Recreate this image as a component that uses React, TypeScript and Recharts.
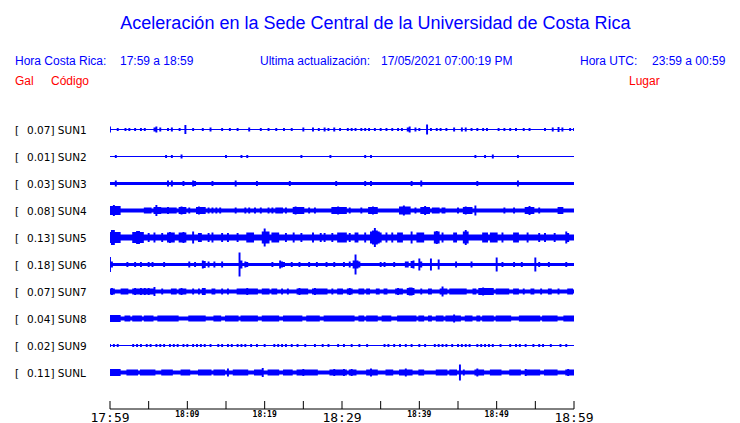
import { ComposedChart, Area, XAxis, YAxis } from "recharts";

const BLUE = "#0000ff";
const RED = "#ff0000";

// peak acceleration per station (Gal), station code, place
const galMax = ["0.07", "0.01", "0.03", "0.08", "0.13", "0.18", "0.07", "0.04", "0.02", "0.11"];
const codes = ["SUN1", "SUN2", "SUN3", "SUN4", "SUN5", "SUN6", "SUN7", "SUN8", "SUN9", "SUNL"];
const places = [
  "CIMAR",
  "Ingenieria P01",
  "Ingenieria P06",
  "EBCI",
  "Rectoria",
  "Agroalimentarias",
  "Archivo",
  "Electrica P06",
  "Electrica P01",
  "LANAMME-CTT",
];

// background noise half-amplitude of each trace
const baseAmp = [0.5, 0.5, 1.5, 2, 3, 1.5, 2, 2, 0.5, 2];

// bursts: [minute, amp] or [fromMinute, toMinute, amp]
const sun1 = [[0,3],[1,1.5],[2,1.5],[2.5,1.5],[3.25,1.5],[4,1.5],[4.5,1.5],[5.75,2],[6,3],[6.5,2],[7.5,1.5],[8,2],[9,1.5],[9.75,4.5],[10.75,1.5],[12,1.5],[13,2],[14.5,1.5],[15.5,1.5],[16.5,1.5],[18,2],[19.5,1.5],[20.5,1.5],[21.5,1.5],[22.5,1.5],[23.5,1.5],[25,2],[26.25,2],[27,1.5],[27.75,2],[28.25,1.5],[29,2],[29.75,1.5],[30.75,1.5],[31.25,1.5],[31.75,1.5],[32.5,1.5],[33,1.5],[33.5,1.5],[34.25,1.5],[35,1.5],[35.75,1.5],[36.5,1.5],[37.25,1.5],[37.75,1.5],[38.5,2],[38.75,3],[39.5,2],[40,1.5],[41,5],[41.5,1.5],[42.25,1.5],[42.75,1.5],[43.5,1.5],[44.5,2],[45.5,2],[46,2],[46.75,1.5],[47.5,1.5],[48.25,1.5],[48.75,1.5],[50.25,1.5],[51,1.5],[51.75,1.5],[52.5,1.5],[53.5,1.5],[54.25,1.5],[56.25,1.5],[57.25,2],[58,2.5],[58.5,2],[59.5,1.5],[60,1.5]];
const sun2 = [[0.75,1.5],[7.25,1.5],[8,1.5],[9.25,2],[15,1.5],[17,1.5],[17.75,1.5],[24.75,1.5],[28.5,1.5],[33,1.5],[33.75,1.5],[47.25,1.5],[48.5,1.5],[49.5,2],[52.75,1.5]];
const sun3 = [[0.75,3],[7.5,3],[8,3],[9.5,2.5],[10.75,3],[11,2.5],[13.25,2.5],[16.25,3],[19,2.5],[23.25,2.5],[29.25,2.5],[33,2.5],[33.75,2.5],[39,2.5],[40.25,3],[47.5,2.5],[52.75,3]];
const sun4 = [[0,1.25,4.5],[0.5,5.5],[4.5,5.25,3],[5.75,3.5],[6,5.5],[6.25,6.5,3.5],[6.75,8.5,3],[7.5,3.5],[9,9.75,3.5],[9.25,4],[10.25,3],[11.25,12.25,3.5],[11.5,4],[12.75,3],[13.25,3],[13.75,3],[14.25,3],[16.25,3],[17.5,3],[18,3],[18.75,3],[19.5,3],[20.5,3],[21,3],[21.5,22.25,3],[22.75,3],[23.75,25,3.5],[24,4],[25.75,3],[26.5,3],[28.75,30.5,3.5],[29.5,4],[31,3],[32.5,3],[33.5,34.5,3.5],[34,4],[37.5,38.75,4],[38,5],[39.5,3],[40.25,41.25,3.5],[40.75,4.5],[41.75,42.5,3],[43,43.25,3],[45,3],[45.75,46.75,3.5],[46,4],[47.25,5],[51,3],[52.25,3],[53.75,54.75,3.5],[54.25,4.5],[55.5,3],[58,58.5,3.5]];
const sun5 = [[0,1.25,5.5],[0.25,0.5,7.5],[3,4.25,5.5],[3.5,3.75,6.5],[5,4.5],[5.75,5],[6.75,4.5],[7.5,8.25,5],[7.75,5.5],[9,9.75,5],[9.5,5.5],[10.75,6],[11.5,11.75,4.5],[12.75,4.5],[13.25,5],[14.5,4.5],[15.25,4.5],[16.5,4.5],[17.75,18.5,5],[19.75,20.5,6],[20,9],[21,21.75,5],[22.75,4.5],[23.75,5],[24.75,4.5],[26.25,5],[27.25,4.5],[27.75,4.5],[28.75,4.5],[29.5,30.5,5],[31,4.5],[31.75,32,5],[33,5],[33.75,34.75,6],[34,7],[34.25,9.5],[34.5,7],[35,5],[35.75,5],[36.5,5],[37.25,37.75,5],[39,6],[39.75,40.5,5],[42,42.5,6],[42.25,6.5],[43,5],[44.5,44.75,5],[45.75,46.25,6],[46,7.5],[48.25,48.75,5],[49.25,50,5],[50.75,5],[52.25,52.75,5],[54,5],[55.5,4.5],[56.25,4.5],[57.5,4.5],[59,6],[59.25,4.5]];
const sun6 = [[0,7.5],[0.25,3],[2.25,2.5],[3.25,2.5],[4,2.5],[5,2.5],[5.5,2.5],[7,2.5],[10.25,3],[11,2.5],[12,4],[12.25,3.5],[12.75,3],[13.5,3],[14.5,3],[16.75,12],[17,4],[17.5,3],[17.75,2.5],[21,2.5],[22,4],[22.25,3],[22.5,2.5],[23.5,2.5],[24.5,2.5],[25.75,2.5],[26.75,2.5],[28,2.5],[29,2.5],[30.25,2.5],[31,3],[31.5,4],[31.75,10],[32,4],[32.25,3],[35,2.5],[35.5,2.5],[36.75,2.5],[38.25,38.5,3],[39,3.5],[39.25,4],[40,6],[40.25,3],[41.5,6],[42.5,5],[44.75,3],[46.75,3],[50,7],[50.75,2.5],[52.25,2.5],[53.25,2.5],[55,7],[55.5,2.5],[56.75,2.5],[59,2.5]];
const sun7 = [[0,0.5,3],[0.25,3.5],[1.5,2.25,3],[3,5.75,3],[3.25,3.5],[4,3.5],[4.5,3.5],[5,3.5],[5.75,4.5],[6.75,3],[8,8.5,3],[9,9.75,3],[9.25,3.5],[10.75,3],[11.5,3],[12,12.25,3.5],[13.25,13.5,3],[14.5,3],[15.25,3],[16.5,19,3],[17.75,3.5],[19.75,20.5,3],[21,21.5,3],[22.25,3],[23,3],[24.25,25.5,3],[24.5,3.5],[26.25,28,3],[26.5,3.5],[28.75,3],[29.5,30,3],[30.75,31.25,3],[31,3.5],[32.25,32.75,3],[33.25,33.5,3],[34.5,34.75,3],[35.5,35.75,3],[37,37.75,3],[37.25,3.5],[38.5,39.25,3.5],[38.75,39,4],[40.25,3],[41.25,41.5,3],[42.75,43.5,3],[43,5],[44,46,3],[47,47.25,3],[47.75,49.5,3.5],[48.25,4],[50,51.5,3],[52.25,52.75,3],[53.5,3],[54.5,54.75,3],[55.75,3],[56.75,57,3],[58,3],[59.25,59.75,3]];
const sun8 = [[0,1.25,3.5],[2,2.5,3],[3,4,3],[4.5,5.5,3],[6.25,8.75,3],[10.25,12.25,3],[13.5,14.25,3],[15,16.5,3],[17,19,3],[19.75,21.75,3],[22.5,24.75,3],[25.5,27,3],[27.75,30.25,3],[29.75,31.5,3],[32.25,32.75,3],[33.25,34.5,3],[35.25,36.25,3],[37.25,39.5,3],[40,40.5,3],[41.25,41.5,3],[42.25,43,3],[43.5,45.25,3],[44.5,4],[46,46.75,3],[47.5,47.75,3],[48.25,49.5,3],[50,51.75,3],[53,55.5,3],[56,57.75,3],[58.75,60,3]];
const sun9 = [[0,1.5],[0.5,1.5],[1,1.5],[3,1.5],[3.5,1.5],[4,1.5],[4.75,1.5],[5.25,1.5],[6,1.5],[6.5,1.5],[7,1.5],[7.75,1.5],[8.25,1.5],[8.75,1.5],[9.5,1.5],[10,1.5],[10.75,1.5],[11.25,1.5],[11.75,1.5],[12.25,1.5],[13,1.5],[14,1.5],[14.5,1.5],[15.25,1.5],[15.75,1.5],[16.5,1.5],[17,1.5],[17.5,1.5],[18.25,1.5],[19,1.5],[20,1.5],[21.25,1.5],[21.75,1.5],[22.25,1.5],[22.75,1.5],[23.5,1.5],[24.25,1.5],[25.25,1.5],[26.5,1.5],[27.5,1.5],[28.25,1.5],[29.5,1.5],[30.25,1.5],[31.25,1.5],[32.25,1.5],[33.25,1.5],[35.5,1.5],[36,1.5],[36.75,1.5],[37.5,1.5],[38.25,1.5],[39,1.5],[40,1.5],[40.75,1.5],[42,1.5],[42.5,1.5],[43,1.5],[43.5,1.5],[44.25,1.5],[45,1.5],[45.5,1.5],[46,1.5],[46.5,1.5],[47.5,1.5],[48,1.5],[48.5,1.5],[49,1.5],[49.5,1.5],[50.5,1.5],[51.75,1.5],[52.5,1.5],[53,1.5],[53.75,1.5],[54.75,1.5],[55.5,1.5],[56,1.5],[57,1.5],[58.25,1.5],[59,1.5]];
const sunl = [[0,1.25,3.5],[2.25,3.5,3],[4,5.75,3],[6.75,8,3],[9.25,10.25,3],[11.5,13,3],[13.5,14.75,3],[15.25,4],[16,17.75,3],[18.75,19.5,3],[19.75,4.5],[20.5,21.75,3],[22.5,23.5,3],[24.25,26.75,3],[25,3.5],[28.5,29.5,3],[29,3.5],[29.75,30.5,3],[30.25,3.5],[31,31.75,3],[31.25,3.5],[33.25,34.5,3],[33.75,4],[35.75,36.5,3],[37.5,39,3],[38.25,4],[40,40.5,3],[42.25,43.5,3],[44,44.75,3],[45.25,8],[45.75,3],[47.25,48.25,3],[47.5,4],[49.25,50.5,3],[51.75,53,3],[53.75,3.5],[54,55.5,3],[56.25,57.75,3],[59,60,3],[59.25,3.5]];

const traceEvents = [sun1, sun2, sun3, sun4, sun5, sun6, sun7, sun8, sun9, sunl];

// time axis (minutes after 17:59), sampled every 15 s
const minutes = Array.from({ length: 241 }, (_, i) => i / 4);
const xTicks = [0, 5, 10, 15, 20, 25, 30, 35, 40, 45, 50, 55, 60];
const tickLabels = ["17:59", "", "18:09", "", "18:19", "", "18:29", "", "18:39", "", "18:49", "", "18:59"];

const ROW = 27;
const FIRST = 13.5;
const centers = codes.map((_, i) => FIRST + ROW * i);

function ampAt(k: number, t: number) {
  let a = baseAmp[k];
  for (const ev of traceEvents[k]) {
    const t0 = ev[0];
    const t1 = ev.length === 3 ? ev[1] : ev[0];
    const v = ev[ev.length - 1];
    if (t >= t0 - 0.01 && t <= t1 + 0.01 && v > a) a = v;
  }
  return a;
}

const data = minutes.map((t) => {
  const row: any = { t };
  codes.forEach((_, k) => {
    const a = ampAt(k, t);
    row["s" + k] = [centers[k] - a, centers[k] + a];
  });
  return row;
});

const LeftTick = ({ y, index }: any) => (
  <g fontFamily="'DejaVu Sans'" fontSize={10.5} fill="#000">
    <text x={15} y={y + 4.5}>[</text>
    <text x={27} y={y + 4.5}>{`${galMax[index]}] ${codes[index]}`}</text>
  </g>
);

const RightTick = ({ y, index }: any) => (
  <text x={587} y={y + 4.5} fontFamily="'DejaVu Sans'" fontSize={10.5} fill="#000">
    {places[index]}
  </text>
);

const TimeTick = ({ x, y, index }: any) => {
  const label = tickLabels[index];
  const big = index % 6 === 0;
  return (
    <g>
      <line x1={x} x2={x} y1={y} y2={y - 8} stroke="#000" />
      {label && (
        <text
          x={x}
          y={big ? y + 12.5 : y + 8}
          textAnchor="middle"
          fontFamily="'DejaVu Sans Mono'"
          fontSize={big ? 13 : 8}
          fontWeight={big ? "normal" : "bold"}
          fill="#000"
        >
          {label}
        </text>
      )}
    </g>
  );
};

export default function App() {
  return (
    <div style={{ position: "absolute", left: 0, top: 0, width: 740, height: 423, background: "#fff" }}>
      <svg width={740} height={100} style={{ position: "absolute", left: 0, top: 0 }}>
        <g fontFamily="'Liberation Sans', Arial, sans-serif">
          <text x={375.5} y={29} textAnchor="middle" fontSize={18} fill={BLUE}>
            Aceleración en la Sede Central de la Universidad de Costa Rica
          </text>
          <g fontSize={12} fill={BLUE}>
            <text x={15} y={65}>Hora Costa Rica:</text>
            <text x={120} y={65}>17:59 a 18:59</text>
            <text x={260} y={65}>Ultima actualización:</text>
            <text x={381} y={65}>17/05/2021 07:00:19 PM</text>
            <text x={580} y={65}>Hora UTC:</text>
            <text x={652} y={65}>23:59 a 00:59</text>
          </g>
          <g fontSize={12} fill={RED}>
            <text x={15} y={85}>Gal</text>
            <text x={51} y={85}>Código</text>
            <text x={629} y={85}>Lugar</text>
          </g>
        </g>
      </svg>
      <ComposedChart
        width={740}
        height={423}
        data={data}
        margin={{ top: 116, right: 0, bottom: 0, left: 0 }}
      >
        <XAxis
          dataKey="t"
          type="number"
          domain={[0, 60]}
          ticks={xTicks}
          interval={0}
          height={14}
          tickSize={0}
          tickMargin={0}
          tickLine={false}
          axisLine={{ stroke: "#000" }}
          tick={<TimeTick />}
        />
        <YAxis
          yAxisId="left"
          type="number"
          domain={[0, 293]}
          reversed
          ticks={centers}
          interval={0}
          width={110}
          axisLine={false}
          tickLine={false}
          tick={<LeftTick />}
        />
        <YAxis
          yAxisId="right"
          orientation="right"
          type="number"
          domain={[0, 293]}
          reversed
          ticks={centers}
          interval={0}
          width={166}
          axisLine={false}
          tickLine={false}
          tick={<RightTick />}
        />
        {codes.map((c, k) => (
          <Area
            key={c}
            yAxisId="left"
            dataKey={"s" + k}
            type="step"
            stroke="none"
            fill={BLUE}
            fillOpacity={1}
            dot={false}
            activeDot={false}
            isAnimationActive={false}
          />
        ))}
      </ComposedChart>
    </div>
  );
}
